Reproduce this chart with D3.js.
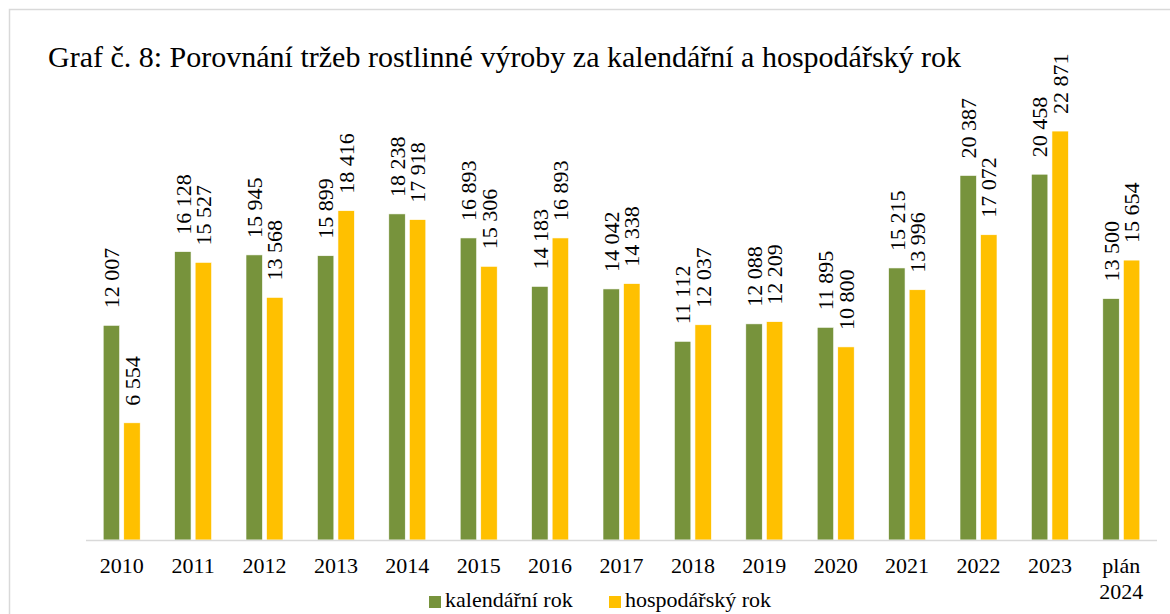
<!DOCTYPE html>
<html>
<head>
<meta charset="utf-8">
<script src="https://cdn.jsdelivr.net/npm/d3@7"></script>
<style>
  body { margin: 0; background: #fff; }
  svg text { font-family: "Liberation Serif", "Times New Roman", serif; }
</style>
</head>
<body>
<div id="chart"></div>
<script>
// Data
const categories = ["2010", "2011", "2012", "2013", "2014", "2015", "2016", "2017",
  "2018", "2019", "2020", "2021", "2022", "2023", "plán 2024"];
const seriesNames = ["kalendářní rok", "hospodářský rok"];
const kalendarni = [12007, 16128, 15945, 15899, 18238, 16893, 14183, 14042,
  11112, 12088, 11895, 15215, 20387, 20458, 13500];
const hospodarsky = [6554, 15527, 13568, 18416, 17918, 15306, 16893, 14338,
  12037, 12209, 10800, 13996, 17072, 22871, 15654];
const colors = ["#77933C", "#FFC000"];

const W = 1170, H = 614;
const axisY = 540;
const serif = "'Liberation Serif', 'Times New Roman', serif";

const svg = d3.select("#chart")
  .append("svg")
    .attr("width", W)
    .attr("height", H);

// outer frame (runs off the right and bottom edges)
svg.append("rect")
  .attr("x", 9.5).attr("y", 9.5)
  .attr("width", 1200).attr("height", 700)
  .attr("fill", "none")
  .attr("stroke", "#d9d9d9")
  .attr("stroke-width", 1.5);

svg.append("text")
  .attr("x", 48).attr("y", 67)
  .attr("font-family", serif)
  .attr("font-size", 30)
  .attr("fill", "#000")
  .text("Graf č. 8: Porovnání tržeb rostlinné výroby za kalendářní a hospodářský rok");

const x0 = d3.scaleBand()
  .domain(categories)
  .range([86, 1157])
  .paddingInner(0.482)
  .paddingOuter(0.241);

const x1 = d3.scaleBand()
  .domain(seriesNames)
  .range([0, x0.bandwidth()])
  .paddingInner(0.2);

const y = d3.scaleLinear()
  .domain([0, 25000])
  .range([axisY, axisY - 447]);

const fmt = d3.formatLocale({ thousands: "\u00a0", grouping: [3], decimal: ",", currency: ["", ""] }).format(",d");

const rows = categories.map((c, i) => ({
  cat: c,
  values: [
    { key: seriesNames[0], value: kalendarni[i], color: colors[0] },
    { key: seriesNames[1], value: hospodarsky[i], color: colors[1] }
  ]
}));

const groups = svg.append("g")
  .selectAll("g")
  .data(rows)
  .join("g")
    .attr("transform", d => `translate(${x0(d.cat)},0)`);

groups.selectAll("rect")
  .data(d => d.values)
  .join("rect")
    .attr("x", d => x1(d.key))
    .attr("y", d => y(d.value))
    .attr("width", x1.bandwidth())
    .attr("height", d => y(0) - y(d.value))
    .attr("fill", d => d.color)
    .attr("stroke", "#fff")
    .attr("stroke-width", 0.6);

// rotated value labels
groups.selectAll("text")
  .data(d => d.values)
  .join("text")
    .attr("transform", d => `translate(${x1(d.key) + x1.bandwidth() / 2},${y(d.value) - 17}) rotate(-90)`)
    .attr("dy", "0.35em")
    .attr("font-family", serif)
    .attr("font-size", 22)
    .attr("fill", "#000")
    .text(d => fmt(d.value));

// x axis
svg.append("line")
  .attr("x1", 86).attr("x2", 1157)
  .attr("y1", axisY + 0.5).attr("y2", axisY + 0.5)
  .attr("stroke", "#d9d9d9")
  .attr("stroke-width", 1.5);

const ticks = svg.append("g")
  .selectAll("text")
  .data(categories)
  .join("text")
    .attr("x", d => x0(d) + x0.bandwidth() / 2)
    .attr("y", 573)
    .attr("text-anchor", "middle")
    .attr("font-family", serif)
    .attr("font-size", 22)
    .attr("fill", "#000");

ticks.selectAll("tspan")
  .data(d => d.split(" "))
  .join("tspan")
    .attr("x", function() { return this.parentNode.getAttribute("x"); })
    .attr("dy", (d, i) => i === 0 ? 0 : 26)
    .text(d => d);

// legend
const legend = svg.append("g")
  .selectAll("g")
  .data(seriesNames)
  .join("g")
    .attr("transform", (d, i) => `translate(${i === 0 ? 429 : 609},596)`);

legend.append("rect")
  .attr("width", 12).attr("height", 12)
  .attr("fill", (d, i) => colors[i]);

legend.append("text")
  .attr("x", 16).attr("y", 11)
  .attr("font-family", serif)
  .attr("font-size", 22)
  .attr("fill", "#000")
  .text(d => d);
</script>
</body>
</html>
